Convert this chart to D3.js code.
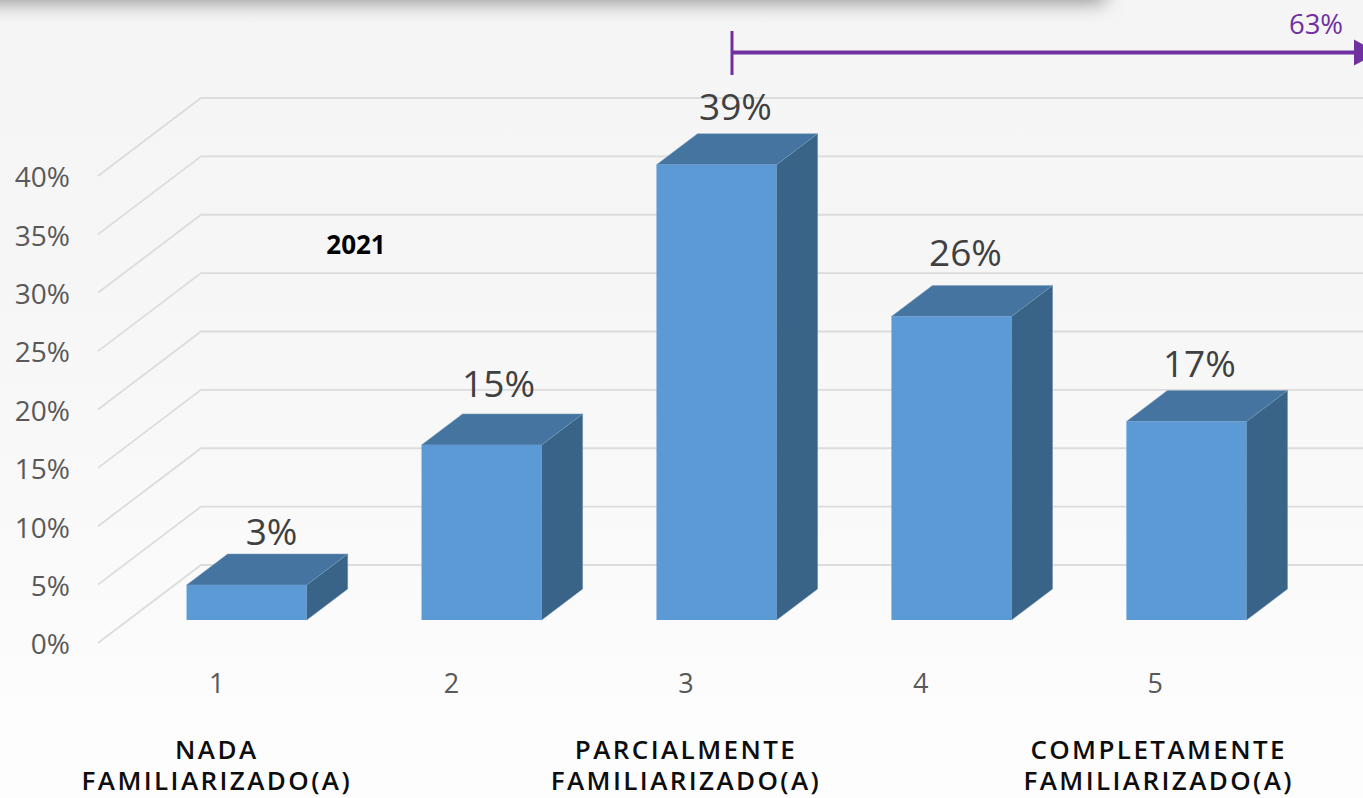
<!DOCTYPE html>
<html><head><meta charset="utf-8">
<script src="https://cdn.jsdelivr.net/npm/d3@7"></script>
<style>html,body{margin:0;padding:0;overflow:hidden;background:#fff}svg{display:block}text{font-family:"Open Sans","Noto Sans",sans-serif}</style>
</head><body><svg id="c" width="1363" height="798"></svg>
<script>
const categories = ["1","2","3","4","5"];
const values = [3,15,39,26,17];
const valueLabels = ["3%","15%","39%","26%","17%"];
const yTicks = [0,5,10,15,20,25,30,35,40];
const scaleNames = [["NADA","FAMILIARIZADO(A)"],["PARCIALMENTE","FAMILIARIZADO(A)"],["COMPLETAMENTE","FAMILIARIZADO(A)"]];
const scaleNameAt = ["1","3","5"];
const rangeLabel = "63%";
const yearLabel = "2021";

const W=1363,H=798;
const svg=d3.select("#c");
const defs=svg.append("defs");
const g=defs.append("linearGradient").attr("id","bg").attr("x1",0).attr("x2",0).attr("y1",0).attr("y2",1);
g.append("stop").attr("offset",0).attr("stop-color","#f5f5f5");
g.append("stop").attr("offset",0.35).attr("stop-color","#f6f6f6");
g.append("stop").attr("offset",0.8).attr("stop-color","#fbfbfb");
g.append("stop").attr("offset",0.9).attr("stop-color","#fdfdfd");
g.append("stop").attr("offset",1).attr("stop-color","#fdfdfd");
defs.append("filter").attr("id","blur").attr("x","-10%").attr("y","-200%").attr("width","120%").attr("height","500%")
  .append("feGaussianBlur").attr("stdDeviation",10);
svg.append("rect").attr("width",W).attr("height",H).attr("fill","url(#bg)");
svg.append("rect").attr("x",-60).attr("y",-50).attr("width",1165).attr("height",52).attr("fill","#8c8c8c").attr("filter","url(#blur)");

// scales
const y=d3.scaleLinear().domain([0,40]).range([643,176]);
const barBase=620-y(0);           // bars stand on a floor raised from the front edge
const wall={dx:103,dy:-78}, depth={dx:41,dy:-31};
const xBar=d3.scaleBand().domain(categories).range([129,1304]).paddingInner(0.489).paddingOuter(0.245);
const xTick=d3.scaleBand().domain(categories).range([99.5,1272.5]);

// gridlines
const grid=svg.append("g");
grid.selectAll("path").data(yTicks).join("path")
  .attr("fill","none").attr("stroke","#dcdcdc").attr("stroke-width",1.8)
  .attr("d",d=>d3.line()([[98,y(d)],[98+wall.dx,y(d)+wall.dy],[W,y(d)+wall.dy]]));

// y axis
const ya=svg.append("g").attr("transform","translate(70,1)")
  .call(d3.axisLeft(y).tickValues(yTicks).tickSize(0).tickPadding(0).tickFormat(d=>d+"%"));
ya.select(".domain").remove();
ya.selectAll("text").attr("font-size",28).attr("fill","#595959").attr("font-family",'"Open Sans"').attr("dy","0.35em");

// bars
const bars=svg.append("g").selectAll("g").data(categories).join("g");
const X=c=>xBar(c), bw=xBar.bandwidth();
const barTop=i=>y(values[i])+barBase, barBot=y(0)+barBase;
const pts=a=>a.map(p=>p.join(",")).join(" ");
bars.append("polygon").attr("fill","#3a6388").attr("stroke","#5d84a6").attr("stroke-width",.5)
  .attr("points",(c,i)=>pts([[X(c)+bw,barTop(i)],[X(c)+bw+depth.dx,barTop(i)+depth.dy],[X(c)+bw+depth.dx,barBot+depth.dy],[X(c)+bw,barBot]]));
bars.append("polygon").attr("fill","#44749f").attr("stroke","#7ea0be").attr("stroke-width",.5)
  .attr("points",(c,i)=>pts([[X(c),barTop(i)],[X(c)+depth.dx,barTop(i)+depth.dy],[X(c)+bw+depth.dx,barTop(i)+depth.dy],[X(c)+bw,barTop(i)]]));
bars.append("rect").attr("fill","#5c9ad6").attr("x",c=>X(c)).attr("width",bw)
  .attr("y",(c,i)=>barTop(i)).attr("height",(c,i)=>barBot-barTop(i));

// value labels (nudged by hand in the original)
const nudgeX=[25,17,19,14,13], nudgeY=[40,48,45,50,45];
svg.append("g").selectAll("text").data(valueLabels).join("text")
  .attr("text-anchor","middle").attr("font-size",37).attr("fill","#404040")
  .attr("x",(d,i)=>X(categories[i])+bw/2+nudgeX[i]).attr("y",(d,i)=>barTop(i)-nudgeY[i]).text(d=>d);

// x axis
const xa=svg.append("g").attr("transform","translate(0,683)")
  .call(d3.axisBottom(xTick).tickSize(0).tickPadding(0));
xa.select(".domain").remove();
xa.selectAll("text").attr("font-size",27).attr("fill","#595959").attr("font-family",'"Open Sans"').attr("dy","0.37em");

// scale names
const nameNudge=[0,0,3.5];
const names=svg.append("g").selectAll("text").data(scaleNames).join("text")
  .attr("text-anchor","middle").attr("font-size",26).attr("font-weight",600).attr("fill","#0d0d0d").attr("letter-spacing",2.4);
names.selectAll("tspan").data((d,i)=>d.map(t=>({t,c:scaleNameAt[i],n:nameNudge[i]}))).join("tspan")
  .attr("x",d=>xTick(d.c)+xTick.bandwidth()/2+d.n).attr("y",(d,i)=>759+i*31).text(d=>d.t);

svg.append("text").attr("x",356).attr("y",254).attr("text-anchor","middle").attr("font-size",26).attr("font-weight",700).attr("fill","#000").text(yearLabel);

// range arrow
const purple="#7030a0";
const arrow=svg.append("g");
arrow.append("line").attr("x1",732).attr("x2",1358).attr("y1",52.5).attr("y2",52.5).attr("stroke",purple).attr("stroke-width",4);
arrow.append("line").attr("x1",732).attr("x2",732).attr("y1",31).attr("y2",75).attr("stroke",purple).attr("stroke-width",3);
arrow.append("path").attr("fill",purple).attr("d",d3.line()([[1354,39.5],[1378,52.5],[1354,65.5]])+"Z");
arrow.append("text").attr("x",1316).attr("y",34).attr("text-anchor","middle").attr("font-size",27.5).attr("fill",purple).text(rangeLabel);
</script></body></html>
